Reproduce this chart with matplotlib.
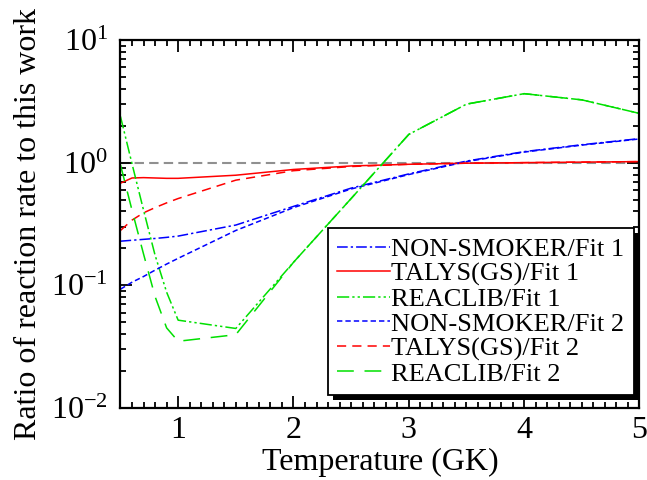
import matplotlib
matplotlib.use("Agg")
import matplotlib.pyplot as plt
import numpy as np
from matplotlib.patches import Rectangle
from matplotlib.transforms import IdentityTransform

plt.rcParams["font.family"] = ["Liberation Serif", "DejaVu Serif"]
plt.rcParams["mathtext.fontset"] = "custom"
plt.rcParams["mathtext.rm"] = "Liberation Serif"

# temperature grid (GK)
T = [0.5, 0.6, 0.7, 0.8, 0.9, 1.0, 1.5, 2.0, 2.5, 3.0, 3.5, 4.0, 4.5, 5.0]

nonsmoker_fit1 = [0.229, 0.233, 0.237, 0.241, 0.246, 0.252, 0.31, 0.44, 0.62, 0.81, 1.03, 1.23, 1.40, 1.57]
talys_fit1 = [0.68, 0.75, 0.755, 0.75, 0.745, 0.745, 0.79, 0.88, 0.94, 0.97, 0.99, 1.0, 1.01, 1.02]
reaclib_fit1 = [2.38, 0.98, 0.41, 0.176, 0.088, 0.052, 0.0445, 0.154, 0.51, 1.70, 3.0, 3.65, 3.25, 2.52]
nonsmoker_fit2 = [0.093, 0.106, 0.118, 0.133, 0.149, 0.166, 0.28, 0.43, 0.61, 0.80, 1.02, 1.22, 1.39, 1.56]
talys_fit2 = [0.28, 0.34, 0.39, 0.43, 0.47, 0.51, 0.72, 0.86, 0.93, 0.97, 0.99, 1.0, 1.01, 1.02]
reaclib_fit2 = [0.96, 0.41, 0.18, 0.081, 0.045, 0.035, 0.0396, 0.154, 0.51, 1.70, 3.0, 3.65, 3.25, 2.52]

labels = ["NON-SMOKER/Fit 1", "TALYS(GS)/Fit 1", "REACLIB/Fit 1",
          "NON-SMOKER/Fit 2", "TALYS(GS)/Fit 2", "REACLIB/Fit 2"]

fig = plt.figure(figsize=(6.47, 4.8), dpi=100)
ax = fig.add_axes([0.1862, 0.15, 0.8022, 0.7667])

ax.axhline(1.0, color="#909090", lw=1.5, dashes=(4.5, 2.5), zorder=1)

blue, red, green = "#0000ff", "#ff0000", "#00e000"
ax.plot(T, nonsmoker_fit1, color=blue, lw=1.1, dashes=(7, 2, 1.5, 2), label=labels[0])
ax.plot(T, talys_fit1, color=red, lw=1.1, label=labels[1])
ax.plot(T, reaclib_fit1, color=green, lw=1.1, dashes=(8, 2, 1.5, 2, 1.5, 2), label=labels[2])
ax.plot(T, nonsmoker_fit2, color=blue, lw=1.1, dashes=(3.5, 2), label=labels[3])
ax.plot(T, talys_fit2, color=red, lw=1.1, dashes=(6, 4), label=labels[4])
ax.plot(T, reaclib_fit2, color=green, lw=1.1, dashes=(11, 7), label=labels[5])

ax.set_yscale("log")
ax.set_xlim(0.5, 5)
ax.set_ylim(0.01, 10)

ax.set_xticks([1, 2, 3, 4, 5])
ax.set_xticks(np.arange(0.5, 5.01, 0.1), minor=True)
ax.set_yticks([0.01, 0.1, 1, 10])
ax.set_yticklabels([r"$\mathregular{10^{-2}}$", r"$\mathregular{10^{-1}}$",
                    r"$\mathregular{10^{0}}$", r"$\mathregular{10^{1}}$"])
ax.tick_params(which="both", direction="in", top=True, right=True, width=1.3, labelsize=23)
ax.tick_params(which="major", length=8.5)
ax.tick_params(which="minor", length=4.5)
ax.tick_params(axis="x", pad=6)
ax.tick_params(axis="y", pad=9)
for s in ax.spines.values():
    s.set_linewidth(1.6)

ax.set_xlabel("Temperature (GK)", fontsize=23, labelpad=2)
ax.set_ylabel("Ratio of reaction rate to this work", fontsize=23, labelpad=6)

leg = ax.legend(loc="upper left", bbox_to_anchor=(0.40, 0.489), borderaxespad=0,
                fontsize=19, frameon=True, fancybox=False, framealpha=1,
                edgecolor="black", handlelength=2.0, handletextpad=0.05,
                labelspacing=0.05, borderpad=0.35)
leg.get_frame().set_linewidth(1.3)

# solid black drop shadow behind the legend box
fig.canvas.draw()
bb = leg.get_frame().get_window_extent()
shadow = Rectangle((bb.x0 + 5, bb.y0 - 5), bb.width, bb.height, transform=IdentityTransform(),
                   facecolor="black", edgecolor="none", zorder=4.9, clip_on=False)
ax.add_artist(shadow)

fig.savefig("out.png", dpi=100)
